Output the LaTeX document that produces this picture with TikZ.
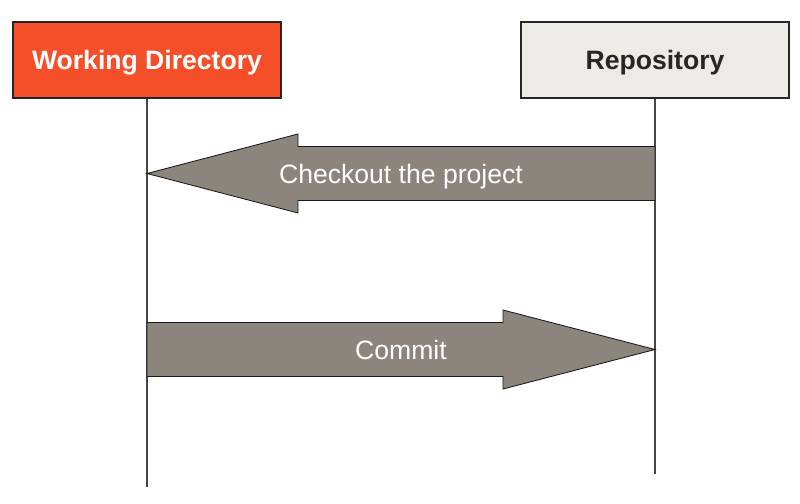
\documentclass[tikz,border=0pt]{standalone}
\usepackage{fontspec}
\setmainfont{Liberation Sans}
\usetikzlibrary{calc}
\definecolor{wdred}{RGB}{245,79,41}
\definecolor{repogray}{RGB}{236,235,229}
\definecolor{arrowgray}{RGB}{140,133,126}
\definecolor{linegray}{RGB}{70,70,70}

\begin{document}
\begin{tikzpicture}[x=0.025cm,y=-0.025cm,
    lane/.style={draw=black!85,line width=0.8pt,minimum width=6.7cm,minimum height=1.9cm,
                 text depth=0pt,font=\fontsize{18.9}{22}\selectfont\bfseries},
    lifeline/.style={draw=linegray,line width=0.75pt},
    blockarrow/.style={fill=arrowgray,draw=black!90,line width=0.6pt,line join=miter},
    arrowlabel/.style={text=white,text depth=0pt,font=\fontsize{18.9}{22}\selectfont}]
  \useasboundingbox (0,0) rectangle (800,504);

  \node[lane,fill=wdred,text=white] (wd)   at (147,60) {Working Directory};
  \node[lane,fill=repogray,text=black!85] (repo) at (655,60) {Repository};

  \coordinate (wd-end)   at (147,487);
  \coordinate (repo-end) at (655,474);
  \draw[lifeline] (wd) -- (wd-end);
  \draw[lifeline] (repo) -- (repo-end);

  \coordinate (co-tip) at (wd |- 0,173.5);
  \coordinate (co-end) at (repo |- 0,173.5);
  \draw[blockarrow] (co-tip) -- ++(151,-39.5) -- ++(0,12.5) -- ($(co-end)+(0,-27)$)
     -- ($(co-end)+(0,27)$) -- ($(co-tip)+(151,27)$) -- ++(0,12.5) -- cycle;
  \node[arrowlabel] (co-label) at ($(co-tip)!.5!(co-end)$) {Checkout the project};

  \coordinate (cm-start) at (wd |- 0,349.5);
  \coordinate (cm-tip)   at (repo |- 0,349.5);
  \draw[blockarrow] (cm-tip) -- ++(-152,-39.5) -- ++(0,12.5) -- ($(cm-start)+(0,-27)$)
     -- ($(cm-start)+(0,27)$) -- ($(cm-tip)+(-152,27)$) -- ++(0,12.5) -- cycle;
  \node[arrowlabel] (cm-label) at ($(cm-start)!.5!(cm-tip)$) {Commit};
\end{tikzpicture}
\end{document}
